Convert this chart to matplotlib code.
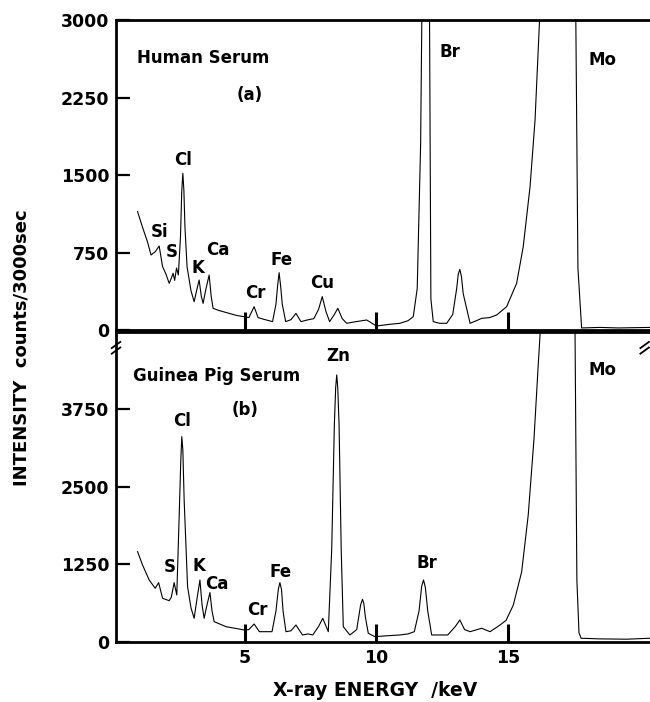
import matplotlib
matplotlib.use("Agg")
import matplotlib.pyplot as plt

##### Spectrum data #####
# (a) Human Serum
energy_a = [0.92, 1.10, 1.30, 1.43, 1.60, 1.74, 1.87, 2.00, 2.12, 2.20, 2.27, 2.33, 2.40, 2.47,
            2.55, 2.60, 2.64, 2.68, 2.72, 2.80, 2.95, 3.07, 3.18, 3.26, 3.34, 3.41, 3.52, 3.64, 3.72, 3.79,
            4.00, 4.40, 4.70, 4.97, 5.15, 5.35, 5.50, 5.70, 6.05, 6.18, 6.24, 6.30, 6.36, 6.42, 6.55, 6.75,
            6.94, 7.13, 7.37, 7.62, 7.80, 7.94, 8.08, 8.22, 8.40, 8.53, 8.70, 8.87, 9.20, 9.63,
            10.00, 10.50, 10.89, 11.20, 11.40, 11.55, 11.68, 11.80, 11.92, 12.00, 12.07, 12.16,
            12.40, 12.67, 12.90, 13.05, 13.11, 13.17, 13.23, 13.30, 13.56, 13.80, 14.00, 14.30, 14.57, 14.95,
            15.33, 15.58, 15.84, 16.03, 16.19, 16.40, 17.00, 17.45, 17.58, 17.66, 17.80, 18.50, 19.20, 20.40]
counts_a = [1145, 1000, 850, 726, 760, 813, 613, 540, 452, 500, 549, 480, 600, 532,
            900, 1350, 1517, 1350, 1000, 613, 380, 274, 400, 484, 330, 258, 400, 532, 320, 210,
            190, 161, 140, 129, 120, 226, 120, 105, 81, 250, 420, 555, 420, 250, 81, 100,
            161, 81, 97, 110, 200, 323, 180, 81, 150, 210, 110, 65, 80, 97,
            39, 55, 65, 90, 129, 400, 1800, 5000, 7000, 4000, 300, 81,
            65, 65, 150, 400, 540, 587, 520, 350, 65, 90, 113, 120, 145, 226,
            452, 806, 1387, 2033, 2936, 4500, 9000, 9000, 3000, 600, 20, 25, 20, 25]

# (b) Guinea Pig Serum
energy_b = [0.92, 1.10, 1.36, 1.59, 1.72, 1.87, 2.12, 2.20, 2.31, 2.41,
            2.50, 2.56, 2.60, 2.64, 2.69, 2.82, 2.95, 3.07, 3.18, 3.29, 3.37, 3.45, 3.56, 3.67, 3.75, 3.83,
            4.28, 4.97, 5.15, 5.35, 5.55, 6.03, 6.18, 6.27, 6.33, 6.39, 6.45, 6.56, 6.75, 6.94, 7.19, 7.40, 7.58,
            7.80, 7.96, 8.17, 8.30, 8.40, 8.45, 8.49, 8.53, 8.58, 8.66, 8.74, 8.99,
            9.25, 9.40, 9.47, 9.52, 9.58, 9.69, 9.94, 10.40, 10.89, 11.20, 11.44,
            11.62, 11.72, 11.79, 11.86, 11.95, 12.10, 12.71, 13.00, 13.17, 13.35, 13.56, 14.00,
            14.32, 14.70, 14.93, 15.20, 15.52, 15.77, 15.99, 16.15, 16.22, 16.40, 17.00, 17.45,
            17.55, 17.62, 17.70, 17.78, 18.50, 19.50, 20.40]
counts_b = [1457, 1250, 1000, 866, 957, 705, 666, 720, 957, 758,
            2021, 2900, 3312, 3100, 2290, 892, 550, 382, 700, 1000, 600, 382, 600, 796, 500, 328,
            247, 194, 200, 290, 166, 166, 500, 850, 957, 850, 500, 166, 180, 274, 113, 130, 113,
            250, 382, 166, 1500, 3500, 4100, 4307, 4100, 3500, 1500, 247, 113,
            200, 600, 688, 620, 400, 140, 86, 100, 113, 130, 166,
            500, 900, 1000, 880, 500, 113, 113, 250, 355, 200, 166, 221,
            166, 274, 350, 592, 1129, 2044, 3279, 4463, 4952, 6500, 12000, 12000,
            5000, 1000, 150, 60, 50, 45, 60]

yticks_a = [0, 750, 1500, 2250, 3000]
yticks_b = [0, 1250, 2500, 3750]
xticks = [5, 10, 15]

# element labels
labels_a = ["Si", "S", "Cl", "K", "Ca", "Cr", "Fe", "Cu", "Br", "Mo"]
label_xa = [1.77, 2.22, 2.64, 3.21, 3.97, 5.38, 6.41, 7.93, 12.79, 18.6]
label_ya = [949, 755, 1646, 600, 774, 358, 678, 455, 2691, 2614]

labels_b = ["S", "K", "Cl", "Ca", "Cr", "Fe", "Zn", "Br", "Mo"]
label_xb = [2.15, 3.25, 2.60, 3.94, 5.46, 6.37, 8.54, 11.92, 18.6]
label_yb = [1210, 1226, 3565, 936, 516, 1129, 4613, 1274, 4387]
################################################


def main() -> None:
    plt.rcParams['font.family'] = ['DejaVu Sans']
    plt.rcParams['font.weight'] = 'bold'

    fig = plt.figure(figsize=(6.5, 7.02), dpi=100)
    ax1 = fig.add_axes([0.1785, 0.5299, 0.8215, 0.4416])
    ax2 = fig.add_axes([0.1785, 0.0855, 0.8215, 0.4416])

    drawPanel(ax1, energy_a, counts_a, 3000, yticks_a, labels_a, label_xa, label_ya)
    drawPanel(ax2, energy_b, counts_b, 5000, yticks_b, labels_b, label_xb, label_yb)

    ax1.text(0.89, 2633, "Human Serum", fontsize=12, ha='left', va='center')
    ax1.text(5.19, 2275, "(a)", fontsize=12, ha='center', va='center')
    ax2.text(0.74, 4291, "Guinea Pig Serum", fontsize=12, ha='left', va='center')
    ax2.text(5.0, 3742, "(b)", fontsize=12, ha='center', va='center')

    ax1.tick_params(axis='x', labelbottom=False)
    ax2.tick_params(axis='x', labelbottom=True, pad=5, labelsize=12.5)

    # axis break marks
    for x0 in (0.0, 0.99):
        for dy in (0.0, 0.018):
            ax2.plot([x0 - 0.008, x0 + 0.008], [0.93 + dy, 0.95 + dy], color='black',
                     lw=1.3, transform=ax2.transAxes, clip_on=False)

    fig.text(375 / 650, 1 - 690 / 702, "X-ray ENERGY  /keV", fontsize=13.5,
             ha='center', va='center')
    fig.text(22 / 650, 1 - 348 / 702, "INTENSITY  counts/3000sec", fontsize=13,
             rotation=90, ha='center', va='center')

    fig.savefig("out.png", dpi=100)


def drawPanel(ax, energy, counts, ymax, yticks, labels, lx, ly) -> None:
    ax.plot(energy, counts, color='black', lw=0.8)
    ax.set_xlim(0.1, 20.4)
    ax.set_ylim(0, ymax)
    ax.set_yticks(yticks)
    ax.set_xticks(xticks)
    ax.spines['right'].set_visible(False)
    for s in ('left', 'top', 'bottom'):
        ax.spines[s].set_linewidth(2)
    ax.tick_params(axis='y', direction='in', length=10, width=1.6, labelsize=12.5, pad=5)
    ax.tick_params(axis='x', direction='in', length=13, width=2.2)
    for name, x, y in zip(labels, lx, ly):
        ax.text(x, y, name, fontsize=12, ha='center', va='center')


if __name__ == "__main__":
    main()
